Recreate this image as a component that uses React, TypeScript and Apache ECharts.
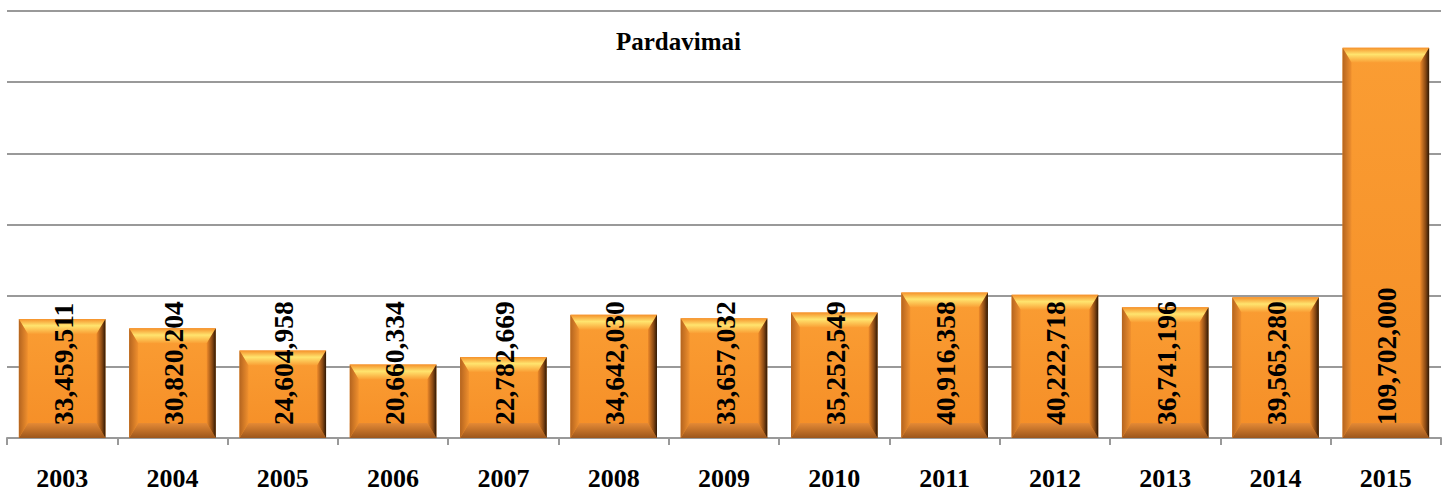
import React, { useEffect, useRef } from "react";
import * as echarts from "echarts";

const years = ["2003", "2004", "2005", "2006", "2007", "2008", "2009", "2010", "2011", "2012", "2013", "2014", "2015"];
const sales = [33459511, 30820204, 24604958, 20660334, 22782669, 34642030, 33657032, 35252549, 40916358, 40222718, 36741196, 39565280, 109702000];
const chartTitle = "Pardavimai";

const FONT = '"Liberation Serif", "Times New Roman", serif';

function fmt(v: number) {
  return v.toString().replace(/\B(?=(\d{3})+(?!\d))/g, ",");
}

export default function App() {
  const ref = useRef<HTMLDivElement>(null);
  useEffect(() => {
    if (!ref.current) return;
    const chart = echarts.init(ref.current, null, { renderer: "svg" });
    const lin = (x1: number, y1: number, x2: number, y2: number, stops: [number, string][]) =>
      new echarts.graphic.LinearGradient(x1, y1, x2, y2, stops.map(([offset, color]) => ({ offset, color })));

    const renderItem = (params: any, api: any) => {
      const idx = api.value(0);
      const val = api.value(1);
      const base = api.coord([idx, 0]);
      const top = api.coord([idx, val]);
      const bw = api.size([1, 0])[0] * 0.785;
      const x0 = base[0] - bw / 2;
      const x1 = base[0] + bw / 2;
      const y0 = top[1];
      const y1 = base[1];
      const h = y1 - y0;
      const b = Math.min(15, h / 2);
      const s = Math.min(9, bw / 2);
      return {
        type: "group",
        children: [
          {
            type: "rect",
            shape: { x: x0, y: y0, width: bw, height: h },
            style: { fill: lin(0, 0, 0, 1, [[0, "#FA9D33"], [1, "#F58E27"]]) },
          },
          {
            type: "polygon",
            shape: { points: [[x0, y0], [x1, y0], [x1 - s, y0 + b], [x0 + s, y0 + b]] },
            style: { fill: lin(0, 0, 0, 1, [[0, "#F5902A"], [0.45, "#FFE46E"], [1, "#FA9E34"]]) },
          },
          {
            type: "polygon",
            shape: { points: [[x0, y1], [x1, y1], [x1 - s, y1 - b], [x0 + s, y1 - b]] },
            style: { fill: lin(0, 0, 0, 1, [[0, "#E58A35"], [1, "#9C561C"]]) },
          },
          {
            type: "polygon",
            shape: { points: [[x0, y0], [x0 + s, y0 + b], [x0 + s, y1 - b], [x0, y1]] },
            style: { fill: lin(0, 0, 1, 0, [[0, "#B4641F"], [1, "#F0902E"]]) },
          },
          {
            type: "polygon",
            shape: { points: [[x1, y0], [x1 - s, y0 + b], [x1 - s, y1 - b], [x1, y1]] },
            style: { fill: lin(0, 0, 1, 0, [[0, "#EE8A2A"], [0.6, "#8A4A14"], [1, "#2E1805"]]) },
          },
          {
            type: "text",
            x: base[0] + 1,
            y: y1 - 13,
            rotation: Math.PI / 2,
            style: {
              text: fmt(val),
              font: `bold 27.5px ${FONT}`,
              fill: "#000",
              align: "left",
              verticalAlign: "middle",
            },
          },
        ],
      };
    };

    chart.setOption({
      animation: false,
      backgroundColor: "#fff",
      title: {
        text: chartTitle,
        left: 611,
        top: 24,
        textStyle: { fontFamily: FONT, fontWeight: "bold", fontSize: 25, color: "#000" },
      },
      grid: { left: 7, right: 6, top: 11, bottom: 56, containLabel: false },
      xAxis: {
        type: "category",
        data: years,
        axisLine: { lineStyle: { color: "#999", width: 2 } },
        axisTick: { show: true, length: 7, lineStyle: { color: "#999", width: 2 } },
        axisLabel: { margin: 27, fontFamily: FONT, fontWeight: "bold", fontSize: 26, color: "#000" },
      },
      yAxis: {
        type: "value",
        min: 0,
        max: 120000000,
        interval: 20000000,
        axisLine: { show: false },
        axisTick: { show: false },
        axisLabel: { show: false },
        splitLine: { lineStyle: { color: "#999", width: 2 } },
      },
      series: [
        {
          type: "custom",
          renderItem,
          data: sales.map((v, i) => [i, v]),
          encode: { x: 0, y: 1 },
        },
      ],
    });
    return () => chart.dispose();
  }, []);
  return <div ref={ref} style={{ position: "fixed", left: 0, top: 0, width: 1447, height: 494 }} />;
}
